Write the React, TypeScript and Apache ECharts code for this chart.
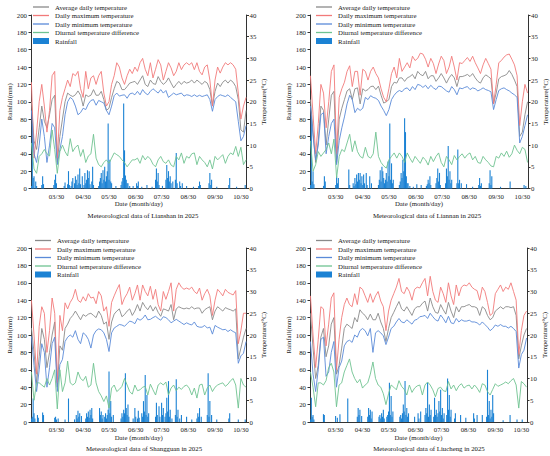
import React, { useEffect, useRef } from "react";
import * as echarts from "echarts";

// ---- calendar: one category per day, 03/01 .. 11/05 ----
const MONTHS = [3, 4, 5, 6, 7, 8, 9, 10, 11];
const MONTH_LENGTHS = [31, 30, 31, 30, 31, 31, 30, 31, 5];
const pad = (n: number) => (n < 10 ? "0" + n : "" + n);
const dates: string[] = [];
MONTHS.forEach((m, i) => {
  for (let d = 1; d <= MONTH_LENGTHS[i]; d++) dates.push(pad(m) + "/" + pad(d));
});

// date-axis tick labels
const dateTicks = ["03/30", "04/30", "05/30", "06/30", "07/30", "08/30", "09/30", "10/30"];

// temperature readings (°C), one every 3rd day from 03/01
const SAMPLE_STEP = 3;

const LINE_NAMES = [
  "Average daily temperature",
  "Daily maximum temperature",
  "Daily minimum temperature",
  "Diurnal temperature difference",
];
const BAR_NAME = "Rainfall";

// ---------------- Lianshan ----------------
const lianshanMax = [
  24.5, 7, 13, 20, 24, 19, 13, 18, 26, 27, 7, 18,
  21, 23, 25, 23.5, 26.5, 26, 27, 23, 21, 27, 23, 25.5,
  26, 24, 26, 27, 22, 19, 20, 24, 26, 29, 28, 25.5,
  24, 26, 27.5, 26.5, 28, 27, 29, 30, 27.5, 26, 29, 25.5,
  27.5, 29.7, 28.5, 25, 27, 29, 27.8, 26, 27, 29, 27.4, 28.5,
  29, 28.5, 29, 27.4, 29, 27, 26.2, 28, 28.5, 25, 19, 25,
  28, 26.6, 28, 29, 28.5, 29, 28.5, 27.5, 22, 16, 19, 21,
];
const lianshanAvg = [
  20, 11, 9, 14, 19, 15.5, 14, 17, 20.5, 21.5, 6, 12,
  16, 20, 22, 21.5, 21.2, 21.6, 22.5, 21.5, 19, 21.6, 21.2, 21.5,
  22.8, 21.5, 21.5, 22.4, 20.5, 18, 18.5, 21, 23, 24.7, 24.3, 22.8,
  22.8, 23.5, 24.3, 24.5, 24.7, 24, 25, 26, 24, 23.5, 25, 24.2,
  24, 25.8, 24.7, 24, 24.5, 25.5, 24.3, 23.2, 24, 24.7, 24, 24.7,
  24.3, 24.5, 25, 24.3, 25, 24.5, 24, 24.7, 24.3, 22.8, 19, 22.4,
  24.3, 23.5, 24.5, 25, 24.3, 25, 24.5, 23.5, 20.5, 13.5, 13, 18,
];
const lianshanMin = [
  18, 8, 6, 10, 16, 12, 6, 10, 15, 14, 5.5, 9,
  12, 17, 20, 21, 20.5, 19, 17, 17.5, 18.5, 18.2, 19.5, 20.3,
  20.5, 19.2, 20.3, 20, 19.7, 18, 17, 19, 21.4, 22, 21.3, 21.5,
  21.6, 20.8, 21.8, 22, 21.6, 22.4, 21.6, 22.8, 22, 21.6, 22.4, 23,
  22.5, 22, 22.8, 22, 22.6, 21, 21.5, 22, 21.6, 21.8, 22, 21.3,
  21.6, 21.5, 21.2, 21.6, 21.2, 21.5, 21.2, 21.4, 21.6, 20.5, 17.8, 20.5,
  21.2, 21.6, 21.4, 21.2, 21.6, 21, 20.5, 20, 15.5, 11, 12, 14.5,
];
const lianshanDiff = [
  10.5, 4.5, 3.5, 7.4, 8, 9, 8, 7.5, 13.5, 9, 3.5, 8.5,
  10, 8.5, 7.5, 11.5, 8.5, 9.5, 10, 7.4, 9, 6, 7.5, 8,
  12.5, 7, 5.5, 5, 6, 6.6, 5.8, 7, 8.2, 7.8, 7.4, 6.6,
  6, 5, 5.8, 6.6, 6.6, 7, 5.8, 7.6, 6.6, 7.4, 6.8, 5.6,
  5, 6.6, 7.4, 6.2, 5.8, 6.6, 5.4, 5, 7.4, 6.6, 8.2, 5.8,
  7.4, 7, 8, 8.2, 5.5, 7.4, 6.6, 6, 5, 6.6, 4.5, 7.4,
  6.6, 7.2, 7.8, 5.8, 7.4, 8.2, 7.8, 9.7, 7.4, 9.5, 5.5, 6.6,
];
// rainfall: [day since 03/01, mm]
const lianshanRain: [number, number][] = [
  [0, 3], [1, 75], [2, 12], [3, 14], [5, 8], [6, 3], [12, 4], [13, 14], [14, 5], [26, 4], [27, 10], [28, 16],
  [29, 6], [38, 3], [39, 7], [42, 5], [43, 20], [44, 4], [46, 3], [47, 8], [48, 12], [50, 6], [51, 14], [52, 10],
  [53, 4], [54, 16], [55, 6], [56, 23], [57, 5], [59, 14], [61, 4], [62, 18], [63, 6], [64, 10], [65, 21], [66, 12],
  [67, 20], [68, 5], [70, 8], [71, 25], [72, 4], [78, 3], [79, 8], [80, 12], [81, 18], [82, 6], [83, 21], [84, 10],
  [85, 25], [86, 8], [87, 14], [88, 20], [89, 75], [90, 10], [91, 33], [92, 8], [93, 6], [98, 3], [104, 4], [105, 8],
  [106, 12], [107, 98], [108, 44], [109, 15], [110, 10], [111, 6], [112, 6], [114, 3], [118, 3], [122, 6], [123, 3],
  [124, 8], [128, 2], [134, 4], [140, 2], [144, 10], [145, 23], [146, 8], [147, 18], [148, 4], [152, 3], [156, 10],
  [157, 27], [158, 12], [159, 20], [160, 8], [161, 14], [162, 6], [164, 8], [167, 10], [168, 41], [169, 6], [172, 8],
  [173, 3], [175, 6], [180, 3], [188, 2], [194, 3], [195, 8], [196, 4], [206, 6], [207, 18], [208, 4], [209, 10],
  [215, 2], [229, 4], [230, 12], [238, 2], [248, 4],
];

// ---------------- Liannan ----------------
const liannanMax = [
  26, 17, 8, 15, 24, 22, 14, 20, 27, 28.5, 8, 21,
  23, 24.5, 27, 28.3, 23.5, 27, 27, 21.5, 27.5, 27, 25, 27,
  28, 26.5, 25.5, 23, 21, 20, 23, 26.5, 28, 25.5, 30, 27,
  28, 29, 27.8, 30.5, 29.5, 30, 31.2, 31, 29.8, 28, 30, 28.8,
  26.5, 28.7, 30.5, 29.5, 26.5, 28, 30.5, 28, 25, 29, 28.8, 29.5,
  30.2, 29.3, 30.5, 29, 27.8, 26.5, 28.5, 30, 28.8, 27.5, 19.5, 24,
  29, 29.5, 30.3, 30.8, 31, 29.8, 28.5, 26, 14.5, 20, 24, 22,
];
const liannanAvg = [
  20.5, 13, 6, 11, 19, 18, 10, 16, 21.5, 22.4, 6, 16,
  18.5, 20.5, 22.5, 23, 20.5, 23, 23.2, 19.5, 23, 22.5, 22.8, 23.5,
  23.6, 22.8, 23.6, 21.5, 19.7, 20, 20.5, 23.5, 24.5, 24.3, 25.5, 25.5,
  24.7, 25.5, 25.8, 26.3, 25.3, 27, 26.3, 26, 27, 25.3, 26, 26,
  24.7, 25.5, 26.5, 25.5, 24.3, 25.5, 26.3, 25.5, 23.5, 25.8, 25.8, 26,
  26.3, 25.8, 26.5, 25.5, 24.7, 24.3, 25.5, 26.2, 25.8, 25.3, 19.5, 22,
  25.3, 25.8, 26, 26.3, 27.2, 26.3, 25, 23.5, 12, 13, 17, 20,
];
const liannanMin = [
  19, 12, 6.6, 10, 17, 17.5, 8, 12, 15, 16, 5.5, 11,
  14, 16.5, 19.5, 21.5, 20.5, 17.5, 18.5, 18, 18.5, 21, 20.5, 21.4,
  21, 20.8, 20.3, 19, 18, 16.8, 18.2, 20.5, 21.5, 22.2, 22.6, 22.3,
  23, 23.2, 22.5, 23.5, 22.8, 24, 23.8, 23.3, 23.8, 23, 23.8, 23.2,
  22.8, 23.6, 23.5, 23, 22.5, 22.2, 23.5, 22.8, 21.6, 23.2, 23, 23.3,
  23.5, 22.8, 23.2, 23, 22.5, 22.8, 23.2, 22.8, 22.6, 22.3, 18.2, 20.5,
  22.6, 23, 23.2, 22.8, 22.5, 22, 21.6, 21, 10.5, 12, 14.5, 17,
];
const liannanDiff = [
  11, 4, 5.5, 8.5, 7.4, 8.2, 9, 10.5, 8, 11.4, 2.5, 7.4,
  9, 8.5, 10.5, 12.5, 8.5, 11, 8.5, 7.4, 7, 9.5, 7.4, 7,
  8, 13, 7.4, 6, 5.2, 4.7, 6.6, 7.4, 8.2, 7, 8.2, 7.4,
  6, 8.2, 7, 6, 7.4, 6.6, 5.8, 7.2, 6.6, 5.4, 7.4, 6.2,
  7.4, 8.2, 6, 5, 7.4, 6.6, 5.5, 7.6, 6.6, 7.4, 8, 7,
  7.8, 8.2, 6.6, 7.4, 6, 5.8, 7.4, 6.6, 6, 5.2, 5, 7.4,
  7, 8.2, 7.4, 8.6, 7.2, 8, 10, 8.8, 8, 9.5, 9, 6,
];
const liannanRain: [number, number][] = [
  [0, 4], [1, 83], [2, 8], [3, 20], [4, 5], [15, 3], [16, 14], [17, 8], [29, 4], [30, 14], [31, 6], [32, 12],
  [44, 22], [45, 4], [49, 6], [50, 3], [51, 12], [52, 5], [53, 16], [54, 8], [55, 18], [56, 10], [57, 18], [58, 6],
  [59, 14], [60, 4], [61, 16], [62, 6], [64, 18], [65, 4], [68, 14], [70, 6], [78, 4], [79, 10], [80, 21], [81, 8],
  [82, 25], [83, 20], [84, 12], [85, 6], [86, 10], [87, 18], [88, 8], [89, 31], [90, 14], [91, 75], [92, 10], [93, 29],
  [94, 6], [95, 10], [102, 4], [103, 8], [104, 18], [105, 12], [106, 33], [107, 20], [108, 81], [109, 65], [110, 14],
  [111, 6], [112, 6], [114, 3], [118, 2], [122, 5], [127, 4], [133, 3], [134, 5], [135, 10], [136, 6], [137, 14],
  [138, 4], [144, 6], [145, 12], [146, 23], [147, 8], [148, 18], [149, 4], [155, 6], [156, 23], [157, 14], [158, 49],
  [159, 10], [160, 20], [161, 6], [162, 10], [168, 6], [169, 45], [170, 6], [171, 10], [173, 6], [179, 5], [186, 2],
  [193, 4], [194, 12], [195, 3], [196, 6], [205, 6], [206, 21], [207, 4], [208, 14], [218, 2], [229, 8], [245, 4],
  [247, 3],
];

// ---------------- Shangguan ----------------
const shangguanMax = [
  28, 20, 11, 22, 26.5, 25, 16, 21, 28.5, 25, 9, 24.5,
  21, 27.4, 26, 27.5, 28.5, 30.5, 28, 27.5, 28.8, 27.8, 29.5, 28.5,
  28.7, 27.2, 30, 29, 25.5, 26.5, 22, 27.5, 29, 30.4, 31.6, 27,
  28.5, 29.5, 31, 28, 29.5, 31.5, 28, 31.5, 30, 29, 31.2, 28.2,
  30.5, 27, 25.5, 30, 28.2, 30, 32, 25.5, 30.5, 32, 31, 30.5,
  30.8, 30.5, 31, 30, 29.5, 30.8, 28, 29.5, 30.5, 29, 24.5, 28,
  30.5, 29.8, 29, 30.5, 29.8, 29.5, 29.2, 30.2, 18, 21, 25, 25,
];
const shangguanAvg = [
  21.6, 16, 9, 15, 21.5, 19, 12.5, 16, 20, 23, 8, 17.5,
  16.5, 21.5, 22.5, 23.8, 24.5, 25.5, 24.5, 23.5, 24.7, 24.3, 24.8, 25,
  24.5, 24, 25.5, 24.5, 22.5, 23, 19, 23, 24.8, 25.5, 26, 24.2,
  24.7, 25.5, 26, 24.5, 25.5, 27, 25.5, 27.5, 26.5, 25.8, 26.8, 25.5,
  26.5, 25.2, 24.3, 26, 25.8, 25.5, 27, 23.5, 26, 26.5, 26.2, 26,
  26.2, 26, 26.5, 26, 26.2, 26.2, 25, 25.8, 26.2, 26.5, 23.5, 25.5,
  26.5, 26, 25.5, 26.3, 26, 25.8, 25.5, 26, 14.5, 17, 19.5, 21.5,
];
const shangguanMin = [
  19.7, 13, 7, 12, 18, 16, 8, 12.5, 18, 19.5, 7, 13.2,
  14.4, 18.5, 19.5, 20, 19.5, 21, 19, 18, 20.5, 20, 19, 17,
  20, 21, 21.4, 21.2, 20.5, 19, 16.2, 20.5, 21.6, 22, 22.4, 22.3,
  22, 22.6, 23.2, 23, 22.6, 23.8, 23.4, 23.8, 24.6, 23.5, 23.6, 24,
  24.3, 23.8, 23.4, 24.2, 24, 23.5, 22.8, 23.2, 23.6, 23.2, 22.8, 22.4,
  22.8, 22.5, 22.3, 23, 22, 21.8, 21.8, 22.2, 21.6, 21.8, 20.2, 22.2,
  21.8, 21.5, 21.2, 21.3, 20.8, 21.2, 20.8, 20.5, 13.5, 15.2, 15.8, 18.5,
];
const shangguanDiff = [
  11.5, 5, 9, 9, 8.5, 8, 10, 8.5, 10, 12, 3, 12,
  7, 9, 14, 9, 8.5, 9, 11.5, 10, 9.5, 10.5, 8, 8.5,
  13.5, 9, 7, 6, 4.7, 6, 3.2, 7.8, 8.5, 7, 7.5, 8.2,
  10, 8.5, 7, 6.4, 8.5, 7.2, 7.4, 8, 8.2, 6.2, 8.7, 7.4,
  6.2, 8.5, 9, 8.5, 9.2, 6.2, 7.8, 8.5, 7.2, 8, 7.5, 8.2,
  8.5, 7.8, 6.2, 7.8, 5.5, 8.5, 8.7, 6.2, 7.8, 8.5, 7, 8,
  8.5, 8.8, 9, 8.2, 8.7, 9.5, 10, 8.5, 3.2, 10, 8.5, 8,
];
const shangguanRain: [number, number][] = [
  [0, 4], [1, 6], [2, 27], [3, 10], [4, 4], [7, 8], [8, 5], [13, 11], [14, 8], [27, 5], [28, 6], [29, 3], [31, 4],
  [39, 3], [43, 27], [50, 3], [52, 8], [53, 4], [54, 13], [55, 6], [56, 10], [58, 7], [63, 4], [64, 10], [65, 6],
  [66, 12], [67, 5], [68, 14], [69, 8], [70, 16], [71, 4], [79, 16], [80, 8], [81, 12], [82, 4], [83, 8], [85, 6],
  [86, 10], [87, 4], [88, 8], [89, 14], [90, 58], [91, 10], [92, 24], [93, 6], [95, 8], [104, 4], [105, 10], [106, 6],
  [107, 14], [108, 10], [109, 56], [110, 16], [111, 8], [112, 20], [113, 6], [118, 4], [120, 16], [121, 6], [123, 4],
  [124, 13], [125, 5], [128, 10], [129, 6], [130, 24], [131, 12], [132, 54], [133, 8], [134, 31], [135, 6], [136, 10],
  [144, 6], [145, 22], [146, 8], [148, 18], [149, 6], [151, 22], [152, 8], [153, 16], [155, 6], [156, 10], [157, 28],
  [158, 12], [159, 47], [160, 6], [161, 14], [163, 4], [167, 8], [168, 49], [169, 6], [170, 14], [172, 4], [174, 8],
  [180, 6], [186, 3], [192, 4], [193, 10], [194, 6], [195, 16], [197, 6], [204, 8], [205, 56], [206, 6], [207, 24],
  [209, 8], [215, 3], [229, 4], [230, 10], [240, 3], [248, 3],
];

// ---------------- Liucheng ----------------
const liuchengMax = [
  29, 20, 12.5, 19, 26.5, 26, 17.5, 22.5, 28.5, 29.7, 12, 19,
  24, 27, 28.5, 27, 26.5, 29.5, 27, 31, 30.5, 29, 27.5, 29.5,
  27.5, 29, 30, 27.8, 26.5, 21, 25.5, 28, 29.5, 31, 33, 30,
  29.5, 31, 30, 28, 30.5, 31, 30.8, 32, 33, 29, 33.5, 30,
  28, 27.5, 31, 29.5, 27.5, 32, 29, 27, 31.5, 29, 31, 31.5,
  31.3, 32, 31, 30.5, 30.2, 28, 31, 30, 27.5, 24.5, 25, 29.5,
  30.5, 31.5, 30, 31, 30.5, 32, 30, 28, 15.5, 21, 24.5, 25.5,
];
const liuchengAvg = [
  25, 17, 10, 13, 19.5, 21.5, 15, 17.5, 22.5, 24, 11, 13,
  17, 21.5, 22.5, 22, 21.5, 24, 23, 25.8, 25, 24.5, 23.5, 24.8,
  23.5, 23.5, 25, 23, 21.5, 18.5, 21.5, 24, 25.2, 26.5, 27.7, 26,
  25.5, 26.5, 25.5, 24.5, 26, 26.5, 26.5, 27.3, 27.8, 25.5, 28.5, 26.5,
  25.2, 25, 27, 25.8, 24.8, 27.5, 25.5, 24, 26.5, 25.3, 26.5, 26.5,
  26.8, 27, 26.5, 26.5, 26.2, 24.5, 26.5, 26, 24.5, 23.5, 24, 25.5,
  26, 26.5, 26, 26.5, 26.5, 26.3, 26.5, 24.5, 14.5, 17.5, 20, 21.5,
];
const liuchengMin = [
  18.5, 11, 7, 12, 19, 19.5, 10.5, 11.5, 16, 18.5, 8, 12.5,
  14, 17.5, 18.5, 18.8, 18.3, 20, 19.5, 21, 21.5, 21, 19.8, 21.5,
  16, 20.5, 21, 20.5, 19.8, 17.8, 19.5, 21.5, 22, 23, 23.8, 23,
  22.8, 23.5, 23, 22.5, 23.4, 23.6, 24.2, 24.3, 24.5, 23.8, 25, 24.2,
  23.5, 23.2, 24.6, 23.8, 22.8, 24.3, 22.8, 22.6, 23.8, 23, 23.5, 23.2,
  23.2, 23.4, 23, 23, 22.8, 22.3, 23, 22.4, 21.8, 21, 21.5, 22.3,
  22, 22.4, 22, 22, 21.6, 22, 21.5, 20.8, 12.4, 15.5, 16.5, 19.3,
];
const liuchengDiff = [
  11.5, 8, 3.5, 9, 9, 8.5, 9.5, 12.5, 13.5, 11.5, 3.5, 8.5,
  9, 11.5, 13, 14.5, 11.5, 10, 9, 9.8, 7.8, 8.5, 9, 11,
  13.8, 10, 8.5, 8, 6.5, 4, 6.5, 8.5, 8, 7.4, 9.5, 8.2,
  7.5, 6.2, 8.5, 6.8, 7.8, 8.3, 8.5, 6.2, 8.5, 9.2, 8.5, 7.4,
  5.8, 7.7, 8, 7.2, 7, 9.3, 7.6, 8.5, 7.2, 8.3, 8.8, 7.8,
  8.3, 8.5, 7.6, 8.5, 7.8, 6.8, 8.8, 8.5, 7, 6.2, 7.5, 8.8,
  8.2, 8.5, 8.8, 9.2, 8.8, 9.5, 10, 8.5, 3.2, 9.3, 8.8, 8,
];
const liuchengRain: [number, number][] = [
  [0, 3], [1, 28], [2, 6], [3, 8], [4, 3], [15, 9], [16, 8], [29, 7], [31, 5], [34, 9], [43, 27], [54, 6], [55, 16],
  [56, 8], [57, 14], [59, 7], [66, 6], [67, 16], [68, 8], [69, 14], [70, 4], [71, 12], [79, 6], [80, 8], [81, 4],
  [82, 10], [83, 6], [84, 14], [85, 4], [88, 6], [89, 8], [90, 12], [91, 45], [92, 8], [93, 30], [94, 6], [95, 12],
  [103, 6], [104, 8], [105, 4], [106, 10], [107, 20], [108, 12], [109, 47], [110, 8], [111, 16], [112, 6], [113, 10],
  [120, 6], [124, 10], [125, 4], [127, 12], [132, 8], [133, 16], [134, 10], [135, 45], [136, 6], [137, 20], [138, 8],
  [139, 14], [142, 6], [143, 28], [144, 8], [145, 14], [146, 6], [147, 10], [148, 24], [149, 12], [150, 37], [151, 8],
  [152, 16], [153, 4], [154, 10], [157, 8], [158, 50], [159, 14], [160, 31], [161, 6], [162, 14], [166, 4], [167, 10],
  [173, 8], [179, 5], [188, 10], [189, 4], [192, 8], [198, 8], [203, 6], [204, 60], [205, 8], [206, 24], [207, 4],
  [208, 14], [209, 6], [210, 31], [211, 10], [222, 2], [230, 8], [238, 3], [244, 3],
];

const stations = [
  { name: "Lianshan", avg: lianshanAvg, max: lianshanMax, min: lianshanMin, diff: lianshanDiff, rain: lianshanRain },
  { name: "Liannan", avg: liannanAvg, max: liannanMax, min: liannanMin, diff: liannanDiff, rain: liannanRain },
  { name: "Shangguan", avg: shangguanAvg, max: shangguanMax, min: shangguanMin, diff: shangguanDiff, rain: shangguanRain },
  { name: "Liucheng", avg: liuchengAvg, max: liuchengMax, min: liuchengMin, diff: liuchengDiff, rain: liuchengRain },
];

// ---- styling / layout ----
const FONT = "'Liberation Serif', 'Times New Roman', Times, serif";
const FS = 6.8;
const TEXT = "#1a1a1a";
const AXIS = "#333";
const COLORS = { avg: "#8a8a8a", max: "#f27a7a", min: "#5a8ad8", diff: "#6fc391", rain: "#1b82d4" };
const ROW = 8.5;

const PANELS = [
  { grid: { left: 31, top: 15, width: 215.5, height: 173.5 }, legend: { left: 33, top: 3.5 }, title: [143, 215] },
  { grid: { left: 310, top: 15, width: 218, height: 173.5 }, legend: { left: 316, top: 3.5 }, title: [427, 215] },
  { grid: { left: 31, top: 248, width: 215.5, height: 174 }, legend: { left: 35, top: 237 }, title: [144, 448] },
  { grid: { left: 310, top: 248, width: 217, height: 174 }, legend: { left: 316, top: 237 }, title: [429, 448] },
];

const txt = { fontSize: FS, fontFamily: FONT, color: TEXT };

function buildOption() {
  const grid: any[] = [];
  const xAxis: any[] = [];
  const yAxis: any[] = [];
  const series: any[] = [];
  const legend: any[] = [];
  const graphic: any[] = [];

  stations.forEach((st, i) => {
    const p = PANELS[i];
    grid.push({ ...p.grid, containLabel: false });
    xAxis.push({
      type: "category",
      gridIndex: i,
      data: dates,
      boundaryGap: true,
      axisLine: { show: true, lineStyle: { color: AXIS, width: 1 } },
      axisTick: { show: false },
      splitLine: { show: false },
      axisLabel: {
        ...txt,
        margin: 4,
        interval: (_idx: number, val: string) => dateTicks.indexOf(val) >= 0,
      },
      name: "Date (month/day)",
      nameLocation: "middle",
      nameGap: 11,
      nameTextStyle: { ...txt },
    });
    yAxis.push({
      type: "value",
      gridIndex: i,
      position: "left",
      min: 0,
      max: 200,
      interval: 20,
      axisLine: { show: true, lineStyle: { color: AXIS, width: 1 } },
      axisTick: { show: true, length: 2.5, lineStyle: { color: AXIS } },
      splitLine: { show: false },
      axisLabel: { ...txt, margin: 4 },
      name: "Rainfall(mm)",
      nameLocation: "middle",
      nameGap: 17,
      nameRotate: 90,
      nameTextStyle: { ...txt },
    });
    yAxis.push({
      type: "value",
      gridIndex: i,
      position: "right",
      min: 0,
      max: 40,
      interval: 5,
      axisLine: { show: true, lineStyle: { color: AXIS, width: 1 } },
      axisTick: { show: true, length: 2.5, lineStyle: { color: AXIS } },
      splitLine: { show: false },
      axisLabel: { ...txt, margin: 3 },
      name: "Temperature(°C)",
      nameLocation: "middle",
      nameGap: 12,
      nameRotate: 90,
      nameTextStyle: { ...txt },
    });

    const pairs = (arr: number[]) => arr.map((v, k) => [k * SAMPLE_STEP, v]);
    const lines: [string, number[], string][] = [
      [LINE_NAMES[0], st.avg, COLORS.avg],
      [LINE_NAMES[1], st.max, COLORS.max],
      [LINE_NAMES[2], st.min, COLORS.min],
      [LINE_NAMES[3], st.diff, COLORS.diff],
    ];
    lines.forEach(([name, arr, color]) => {
      series.push({
        type: "line",
        name,
        xAxisIndex: i,
        yAxisIndex: 2 * i + 1,
        data: pairs(arr),
        symbol: "none",
        showSymbol: false,
        lineStyle: { color, width: 0.9 },
        itemStyle: { color },
        silent: true,
      });
    });
    series.push({
      type: "bar",
      name: BAR_NAME,
      xAxisIndex: i,
      yAxisIndex: 2 * i,
      data: st.rain,
      barWidth: 1.1,
      itemStyle: { color: COLORS.rain },
      silent: true,
    });

    // one legend per row so the row pitch is exact
    [...LINE_NAMES, BAR_NAME].forEach((name, r) => {
      const isBar = name === BAR_NAME;
      legend.push({
        orient: "vertical",
        left: p.legend.left,
        top: p.legend.top + ROW * r,
        padding: 0,
        icon: "rect",
        itemWidth: 16,
        itemHeight: isBar ? 6 : 1.3,
        selectedMode: false,
        data: [name],
        textStyle: { ...txt, padding: [0, 0, 0, 1] },
      });
    });

    graphic.push({
      type: "text",
      x: p.title[0],
      y: p.title[1],
      style: {
        text: "Meteorological data of " + st.name + " in 2025",
        fontSize: FS,
        fontFamily: FONT,
        fill: "#111",
        align: "center",
        verticalAlign: "middle",
      },
    });
  });

  return { animation: false, grid, xAxis, yAxis, series, legend, graphic };
}

export default function App() {
  const ref = useRef<HTMLDivElement>(null);
  useEffect(() => {
    document.body.style.margin = "0";
    if (!ref.current) return;
    const chart = echarts.init(ref.current, undefined, { renderer: "svg" });
    chart.setOption(buildOption() as any);
    return () => chart.dispose();
  }, []);
  return <div ref={ref} style={{ width: 550, height: 456, background: "#fff" }} />;
}
